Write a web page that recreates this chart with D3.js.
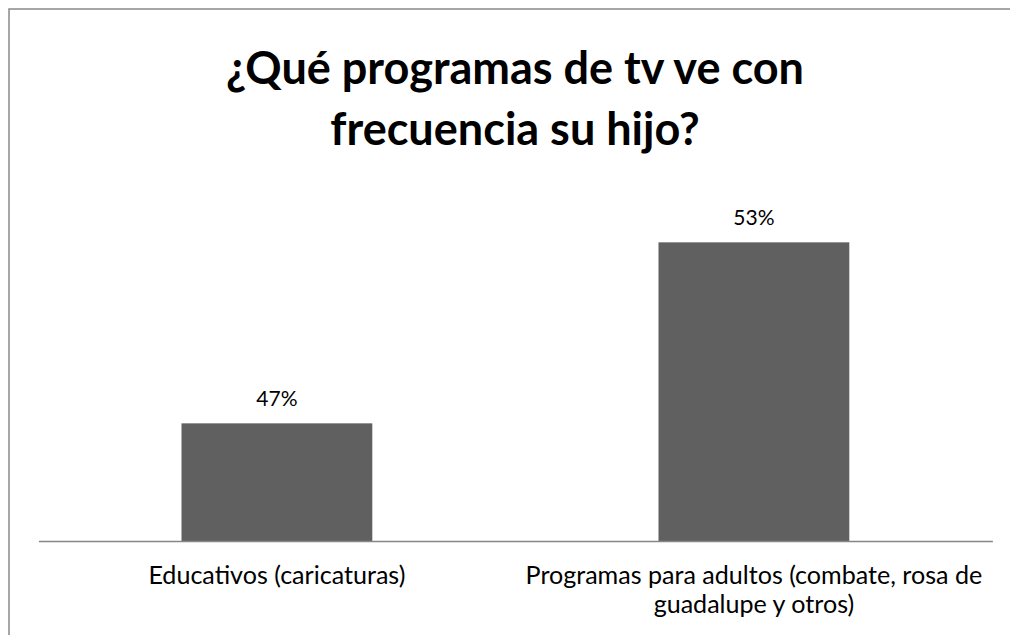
<!DOCTYPE html>
<html>
<head>
<meta charset="utf-8">
<script src="https://cdn.jsdelivr.net/npm/d3@7"></script>
<style>
  body { margin: 0; background: #fff; }
  svg { display: block; font-family: Lato, "Open Sans", sans-serif; }
</style>
</head>
<body>
<svg id="chart"></svg>
<script>
// chart data
var categories = ['Educativos (caricaturas)', 'Programas para adultos (combate, rosa de guadalupe y otros)'];
var categoryLines = [
  ['Educativos (caricaturas)'],
  ['Programas para adultos (combate, rosa de', 'guadalupe y otros)']
];
var values = [0.47, 0.53];
var valueLabels = ['47%', '53%'];
var titleLines = ['¿Qué programas de tv ve con', 'frecuencia su hijo?'];

var width = 1010;
var height = 635;

var svg = d3.select('#chart')
  .attr('width', width)
  .attr('height', height);

// outer chart border (right and bottom edges fall outside the picture)
svg.append('rect')
  .attr('x', 9).attr('y', 9)
  .attr('width', 1012).attr('height', 700)
  .attr('fill', '#fff')
  .attr('stroke', '#898989')
  .attr('stroke-width', 1.5);

var plot = { left: 38.4, right: 992.4, top: 182, bottom: 541 };

var x = d3.scaleBand()
  .domain(categories)
  .range([plot.left, plot.right])
  .paddingInner(0.6)
  .paddingOuter(0.3);

// value axis is hidden, min is above zero like the original
var y = d3.scaleLinear()
  .domain([0.431, 0.55])
  .range([plot.bottom, plot.top]);

// scale font so text takes the measured width
function fitWidth(sel, target) {
  var w = sel.node().getComputedTextLength();
  var fs = parseFloat(sel.attr('font-size'));
  sel.attr('font-size', fs * target / w);
  return fs * target / w;
}

// title
var title = svg.append('g').attr('text-anchor', 'middle');
var t1 = title.append('text')
  .attr('x', 515).attr('y', 84)
  .attr('font-size', 44).attr('font-weight', 'bold')
  .attr('fill', '#000')
  .text(titleLines[0]);
fitWidth(t1, 578);
title.append('text')
  .attr('x', 515).attr('y', 145)
  .attr('font-size', t1.attr('font-size')).attr('font-weight', 'bold')
  .attr('fill', '#000')
  .text(titleLines[1]);

// bars
svg.selectAll('.bar')
  .data(values)
  .enter().append('rect')
    .attr('class', 'bar')
    .attr('x', function (d, i) { return x(categories[i]); })
    .attr('y', function (d) { return y(d); })
    .attr('width', x.bandwidth())
    .attr('height', function (d) { return plot.bottom - y(d); })
    .attr('fill', '#606060');

// data labels
svg.selectAll('.vlabel')
  .data(values)
  .enter().append('text')
    .attr('class', 'vlabel')
    .attr('text-anchor', 'middle')
    .attr('x', function (d, i) { return x(categories[i]) + x.bandwidth() / 2; })
    .attr('y', function (d) { return y(d) - 17; })
    .attr('font-size', 21)
    .attr('fill', '#000')
    .text(function (d, i) { return valueLabels[i]; });

// category axis
var xAxis = d3.axisBottom(x).tickSize(0).tickFormat('');
var axisG = svg.append('g')
  .attr('transform', 'translate(0,' + plot.bottom + ')')
  .call(xAxis);
axisG.select('.domain').attr('stroke', '#868686').attr('stroke-width', 1.5);

// category labels, sized from the first one
var probe = svg.append('text')
  .attr('font-size', 21)
  .text(categoryLines[0][0]);
var labelSize = fitWidth(probe, 257);
probe.remove();

var labels = svg.selectAll('.clabel')
  .data(categories)
  .enter().append('text')
    .attr('class', 'clabel')
    .attr('text-anchor', 'middle')
    .attr('font-size', labelSize)
    .attr('fill', '#000');

labels.each(function (d, i) {
  var el = d3.select(this);
  categoryLines[i].forEach(function (line, j) {
    el.append('tspan')
      .attr('x', x(d) + x.bandwidth() / 2)
      .attr('y', 584 + j * 29)
      .text(line);
  });
});
</script>
</body>
</html>
